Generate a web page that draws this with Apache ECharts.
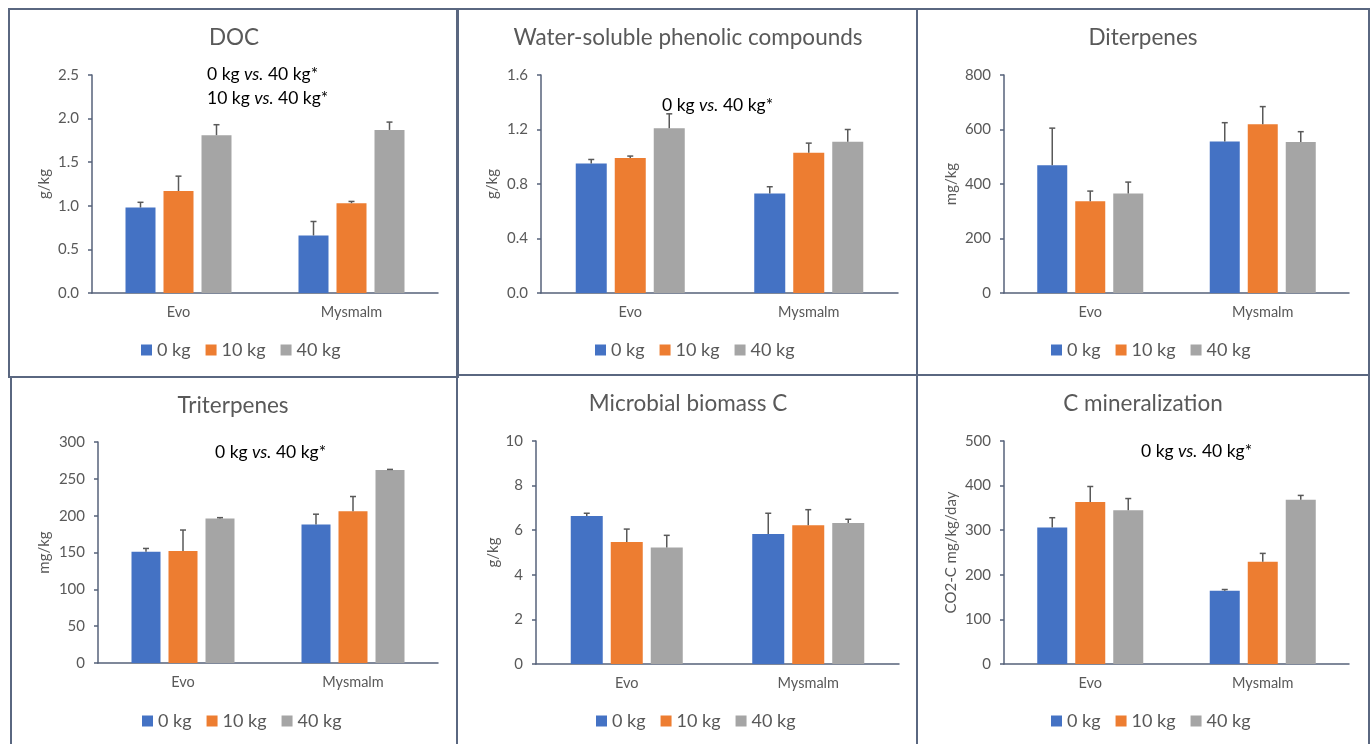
<!DOCTYPE html>
<html>
<head>
<meta charset="utf-8">
<script src="https://cdn.jsdelivr.net/npm/echarts@6/dist/echarts.min.js"></script>
<style>
  html, body { margin: 0; padding: 0; background: #fff; }
  #chart { width: 1372px; height: 744px; }
</style>
</head>
<body>
<div id="chart"></div>
<script>
// categories and groups
const categories = ['Evo', 'Mysmalm']
const groups = ['0 kg', '10 kg', '40 kg']

// panel titles and y-axis names
const titles = ['DOC', 'Water-soluble phenolic compounds', 'Diterpenes', 'Triterpenes', 'Microbial biomass C', 'C mineralization']
const yNames = ['g/kg', 'g/kg', 'mg/kg', 'mg/kg', 'g/kg', 'CO2-C mg/kg/day']
const yMax = [2.5, 1.6, 800, 300, 10, 500]
const yStep = [0.5, 0.4, 200, 50, 2, 100]
const yDecimals = [1, 1, 0, 0, 0, 0]

// means per group: [Evo, Mysmalm]
const docMean = [[0.98, 0.66], [1.17, 1.03], [1.81, 1.87]]
const docSd = [[0.06, 0.16], [0.17, 0.02], [0.12, 0.09]]
const phenMean = [[0.95, 0.73], [0.99, 1.03], [1.21, 1.11]]
const phenSd = [[0.03, 0.05], [0.015, 0.07], [0.105, 0.09]]
const diterMean = [[469, 556], [337, 619], [365, 554]]
const diterSd = [[136, 69], [37, 65], [42, 38]]
const triterMean = [[151, 188], [152, 206], [196, 262]]
const triterSd = [[4.5, 14], [28.5, 20], [1.3, 0.8]]
const micMean = [[6.64, 5.83], [5.47, 6.22], [5.22, 6.32]]
const micSd = [[0.12, 0.93], [0.58, 0.70], [0.55, 0.17]]
const cminMean = [[306, 164], [363, 229], [345, 368]]
const cminSd = [[22, 3], [35, 19], [26, 10]]

// significance notes (lines of text)
const notes = [
  ['0 kg {i|vs.} 40 kg*', '10 kg {i|vs.} 40 kg*'],
  ['0 kg {i|vs.} 40 kg*'],
  [],
  ['0 kg {i|vs.} 40 kg*'],
  [],
  ['0 kg {i|vs.} 40 kg*']
]

const means = [docMean, phenMean, diterMean, triterMean, micMean, cminMean]
const sds = [docSd, phenSd, diterSd, triterSd, micSd, cminSd]

// layout
const colors = ['#4472C4', '#ED7D31', '#A5A5A5']
const textColor = '#595959'
const axisColor = '#56627a'
const font = 'Lato, "Open Sans", sans-serif'

const frames = [
  [9, 9, 449, 368], [457, 9, 460, 366], [917, 9, 452, 366],
  [11, 377, 446, 400], [457, 375, 460, 400], [917, 375, 452, 400]
]
const grids = [
  [92, 75, 346, 218], [541, 75, 357, 218], [1004, 75, 345, 218],
  [98, 442, 340, 221], [536, 441, 363, 223], [1004, 441, 345, 223]
]
const titlePos = [[234, 38], [688, 38], [1143, 38], [233, 406], [688, 404], [1143, 404]]
const notePos = [[207, 74], [662, 105], null, [215, 452], null, [1141, 451]]
const legendPos = [[141, 341], [595, 341], [1051, 341], [142, 712], [596, 712], [1051, 712]]
const nameGaps = [40, 41, 45, 46, 35, 45]
const barWidths = [30, 31, 30, 29, 32, 30]
const barGapPx = 8

const chart = echarts.init(document.getElementById('chart'))

const option = {
  backgroundColor: '#fff',
  animation: false,
  color: colors,
  grid: [],
  xAxis: [],
  yAxis: [],
  legend: [],
  series: [],
  graphic: []
}

for (let p = 0; p < 6; p++) {
  const g = grids[p]
  option.grid.push({ left: g[0], top: g[1], width: g[2], height: g[3], containLabel: false })
  option.xAxis.push({
    type: 'category',
    gridIndex: p,
    data: categories,
    axisLine: { lineStyle: { color: axisColor, width: 1.5 } },
    axisTick: { show: false },
    axisLabel: { color: textColor, fontSize: 14.5, fontFamily: font, margin: 12 }
  })
  const dec = yDecimals[p]
  option.yAxis.push({
    type: 'value',
    gridIndex: p,
    min: 0,
    max: yMax[p],
    interval: yStep[p],
    name: yNames[p],
    nameLocation: 'middle',
    nameGap: nameGaps[p],
    nameRotate: 90,
    nameTextStyle: { color: textColor, fontSize: 15, fontFamily: font },
    splitLine: { show: false },
    axisLine: { show: true, lineStyle: { color: axisColor, width: 1.5 } },
    axisTick: { show: true, length: 4, lineStyle: { color: axisColor, width: 1.5 } },
    axisLabel: { color: textColor, fontSize: 15, fontFamily: font, margin: 13, formatter: v => v.toFixed(dec) }
  })
  option.legend.push({
    left: legendPos[p][0],
    top: legendPos[p][1],
    padding: 0,
    data: groups,
    icon: 'rect',
    itemWidth: 11,
    itemHeight: 11,
    itemGap: 15,
    textStyle: { color: textColor, fontSize: 18, fontFamily: font },
    selectedMode: false
  })

  const bw = barWidths[p]
  for (let k = 0; k < 3; k++) {
    option.series.push({
      name: groups[k],
      type: 'bar',
      xAxisIndex: p,
      yAxisIndex: p,
      data: means[p][k],
      barWidth: bw,
      barGap: (barGapPx / bw * 100) + '%',
      itemStyle: { color: colors[k] }
    })
    const offset = (k - 1) * (bw + barGapPx)
    option.series.push({
      name: 'err',
      type: 'custom',
      xAxisIndex: p,
      yAxisIndex: p,
      z: 5,
      data: categories.map((c, i) => [i, means[p][k][i], means[p][k][i] + sds[p][k][i]]),
      renderItem: (params, api) => {
        const a = api.coord([api.value(0), api.value(1)])
        const b = api.coord([api.value(0), api.value(2)])
        const x = a[0] + offset
        const st = { stroke: textColor, lineWidth: 1.5 }
        return {
          type: 'group',
          children: [
            { type: 'line', shape: { x1: x, y1: a[1], x2: x, y2: b[1] }, style: st },
            { type: 'line', shape: { x1: x - 3, y1: b[1], x2: x + 3, y2: b[1] }, style: st }
          ]
        }
      }
    })
  }

  // frame
  const f = frames[p]
  option.graphic.push({
    type: 'rect',
    shape: { x: f[0], y: f[1], width: f[2], height: f[3] },
    style: { fill: 'none', stroke: '#5a6780', lineWidth: 2 },
    z: 10
  })
  // title
  option.graphic.push({
    type: 'text',
    x: titlePos[p][0],
    y: titlePos[p][1],
    style: {
      text: titles[p],
      fill: textColor,
      font: '22.5px ' + font,
      align: 'center',
      verticalAlign: 'middle'
    }
  })
  // notes
  if (notePos[p]) {
    notes[p].forEach((line, j) => {
      option.graphic.push({
        type: 'text',
        x: notePos[p][0],
        y: notePos[p][1] + j * 24,
        style: {
          text: line,
          fill: '#000',
          font: '17.5px ' + font,
          align: 'left',
          verticalAlign: 'middle',
          rich: { i: { fontStyle: 'italic', fontSize: 17.5, fontFamily: font, fill: '#000' } }
        }
      })
    })
  }
}

chart.setOption(option)
</script>
</body>
</html>
